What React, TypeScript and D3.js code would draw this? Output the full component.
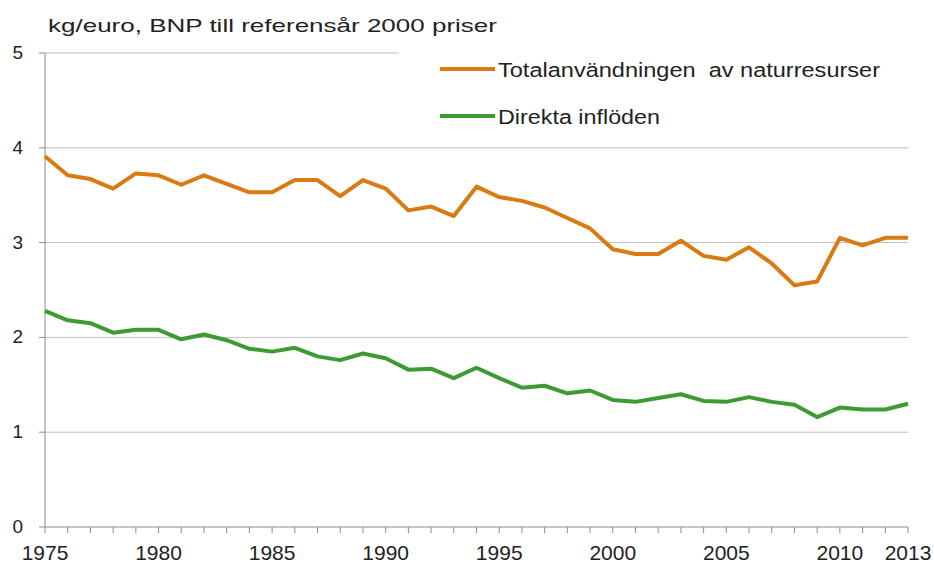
import React from 'react';
import * as d3 from 'd3';

const width = 934;
const height = 564;
const margin = { left: 45, right: 26, top: 53, bottom: 37 };

const years = d3.range(1975, 2014);
const totalUse = [
  3.91, 3.71, 3.67, 3.57, 3.73, 3.71, 3.61, 3.71, 3.62, 3.53,
  3.53, 3.66, 3.66, 3.49, 3.66, 3.57, 3.34, 3.38, 3.28, 3.59,
  3.48, 3.44, 3.37, 3.26, 3.15, 2.93, 2.88, 2.88, 3.02, 2.86,
  2.82, 2.95, 2.78, 2.55, 2.59, 3.05, 2.97, 3.05, 3.05,
];
const directInflow = [
  2.28, 2.18, 2.15, 2.05, 2.08, 2.08, 1.98, 2.03, 1.97, 1.88,
  1.85, 1.89, 1.80, 1.76, 1.83, 1.78, 1.66, 1.67, 1.57, 1.68,
  1.57, 1.47, 1.49, 1.41, 1.44, 1.34, 1.32, 1.36, 1.40, 1.33,
  1.32, 1.37, 1.32, 1.29, 1.16, 1.26, 1.24, 1.24, 1.30,
];
const yTicks = [0, 1, 2, 3, 4, 5];
const xLabels = [1975, 1980, 1985, 1990, 1995, 2000, 2005, 2010, 2013];
const seriesNames = ['Totalanvändningen  av naturresurser', 'Direkta inflöden'];
const legendWidths = [382, 162];
const colors = ['#d97b12', '#3e9a35'];
const title = 'kg/euro, BNP till referensår 2000 priser';

const font = '"Liberation Sans", Arial, sans-serif';

export default function App() {
  const x = d3.scaleLinear().domain([1975, 2013]).range([margin.left, width - margin.right]);
  const y = d3.scaleLinear().domain([0, 5]).range([height - margin.bottom, margin.top]);
  const line = d3.line<number>().x((d, i) => x(years[i])).y(d => y(d));
  const series = [totalUse, directInflow];

  return (
    <svg width={width} height={height} style={{ position: 'absolute', left: 0, top: 0, background: '#fff' }}>
      {yTicks.filter(t => t > 0).map(t => (
        <line key={'g' + t} x1={margin.left} x2={width - margin.right} y1={y(t)} y2={y(t)} stroke="#bdbdbd" strokeWidth={1} />
      ))}
      {/* legend box covers the top gridline */}
      <rect x={399} y={y(5) - 2} width={width - 399} height={85} fill="#fff" />
      <line x1={margin.left} x2={margin.left} y1={y(5)} y2={y(0)} stroke="#8c8c8c" />
      <line x1={margin.left} x2={width - margin.right} y1={y(0)} y2={y(0)} stroke="#8c8c8c" />
      {yTicks.map(t => (
        <g key={'y' + t}>
          <line x1={margin.left - 6} x2={margin.left} y1={y(t)} y2={y(t)} stroke="#8c8c8c" />
          <text x={23} y={y(t) + 6} textAnchor="end" fontFamily={font} fontSize={19} fill="#222">{t}</text>
        </g>
      ))}
      {years.map(yr => (
        <line key={'t' + yr} x1={x(yr)} x2={x(yr)} y1={y(0)} y2={y(0) + 6} stroke="#8c8c8c" />
      ))}
      {xLabels.map(yr => (
        <text key={'x' + yr} x={x(yr)} y={560} textAnchor="middle" fontFamily={font} fontSize={21} fill="#222">{yr}</text>
      ))}
      {series.map((s, i) => (
        <path key={'s' + i} d={line(s) || ''} fill="none" stroke={colors[i]} strokeWidth={4} strokeLinejoin="round" />
      ))}
      {seriesNames.map((n, i) => (
        <g key={'l' + i}>
          <line x1={440} x2={495} y1={69 + i * 47} y2={69 + i * 47} stroke={colors[i]} strokeWidth={4} />
          <text x={498} y={77 + i * 47} fontFamily={font} fontSize={20} fill="#222"
            textLength={legendWidths[i]} lengthAdjust="spacingAndGlyphs" style={{ whiteSpace: 'pre' }}>{n}</text>
        </g>
      ))}
      <text x={48} y={32} fontFamily={font} fontSize={19} fill="#222"
        textLength={449} lengthAdjust="spacingAndGlyphs">{title}</text>
    </svg>
  );
}
